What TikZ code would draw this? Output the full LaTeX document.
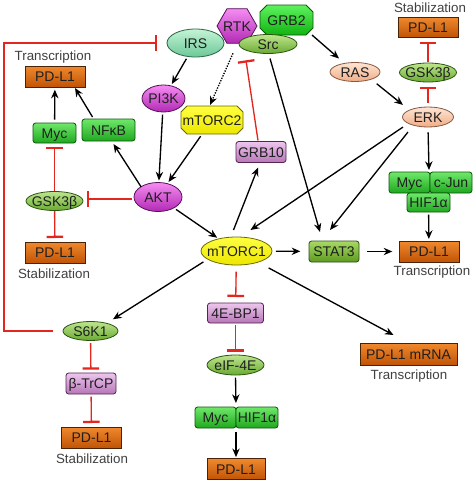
\documentclass[tikz,border=0pt]{standalone}
\usepackage{fontspec}
\setmainfont{Liberation Sans}
\usetikzlibrary{arrows.meta,shapes.geometric,calc}
\definecolor{pdTop}{HTML}{F0892E}
\definecolor{pdBot}{HTML}{C05406}
\definecolor{pdDraw}{HTML}{4A2204}
\definecolor{grnTop}{HTML}{6FE86A}
\definecolor{grnBot}{HTML}{1FA81F}
\definecolor{grnDraw}{HTML}{0E560E}
\definecolor{purTop}{HTML}{EEC6EE}
\definecolor{purBot}{HTML}{B676B6}
\definecolor{purDraw}{HTML}{552455}
\definecolor{magTop}{HTML}{F58CF2}
\definecolor{magBot}{HTML}{B22AB4}
\definecolor{magDraw}{HTML}{55105A}
\definecolor{lgTop}{HTML}{BEE68E}
\definecolor{lgBot}{HTML}{6AAA32}
\definecolor{lgDraw}{HTML}{2C5610}
\definecolor{irsTop}{HTML}{C4F4D6}
\definecolor{irsBot}{HTML}{6CC898}
\definecolor{irsDraw}{HTML}{2C6446}
\definecolor{pchTop}{HTML}{FDE6D4}
\definecolor{pchBot}{HTML}{F0AC86}
\definecolor{pchDraw}{HTML}{875842}
\definecolor{ylTop}{HTML}{FFFF40}
\definecolor{ylBot}{HTML}{EDE600}
\definecolor{ylDraw}{HTML}{6A6A00}
\definecolor{stTop}{HTML}{A8DA64}
\definecolor{stBot}{HTML}{5E9A22}
\definecolor{stDraw}{HTML}{2C4E0E}
\definecolor{g2Top}{HTML}{5EF25E}
\definecolor{g2Bot}{HTML}{10B410}
\definecolor{g2Draw}{HTML}{0A560A}
\definecolor{inhRed}{HTML}{E3261E}
\newcommand\ct[1]{\makebox[0pt]{\smash{\raisebox{-0.36em}{#1}}}}
\newcommand\octpath[5]{(#1-#3+#5,#2-#4) -- (#1+#3-#5,#2-#4) -- (#1+#3,#2-#4+#5) -- (#1+#3,#2+#4-#5) -- (#1+#3-#5,#2+#4) -- (#1-#3+#5,#2+#4) -- (#1-#3,#2+#4-#5) -- (#1-#3,#2-#4+#5) -- cycle}
\begin{document}
\begin{tikzpicture}[x=0.75pt,y=-0.75pt,
  font=\fontsize{10.5}{12}\selectfont,
  nd/.style={inner sep=0pt, outer sep=0pt, text=black!88},
  pdl/.style={nd, rectangle, draw=pdDraw, top color=pdTop, bottom color=pdBot, minimum width=45pt, minimum height=15.75pt, line width=0.6pt},
  gbox/.style={nd, rectangle, rounded corners=2pt, draw=grnDraw, top color=grnTop, bottom color=grnBot, minimum height=15.75pt, line width=0.6pt},
  pbox/.style={nd, rectangle, rounded corners=2pt, draw=purDraw, top color=purTop, bottom color=purBot, minimum width=37.5pt, minimum height=15.75pt, line width=0.6pt},
  mell/.style={nd, ellipse, draw=magDraw, top color=magTop, bottom color=magBot, line width=0.6pt},
  lgell/.style={nd, ellipse, draw=lgDraw, top color=lgTop, bottom color=lgBot, line width=0.6pt},
  pell/.style={nd, ellipse, draw=pchDraw, top color=pchTop, bottom color=pchBot, line width=0.6pt},
  lbl/.style={inner sep=0pt, text=black!75, font=\fontsize{10}{12}\selectfont},
  arr/.style={draw=black, line width=1pt, -{Stealth[length=6.5pt,width=5.5pt]}, shorten <=2pt, shorten >=1.5pt},
  inh/.style={draw=inhRed, line width=1pt, -{Bar[width=12.5pt,line width=1.7pt]}, shorten <=1.5pt, shorten >=2.5pt}
]
\useasboundingbox (0,0) rectangle (474,482);
\fill[white] (0,0) rectangle (474,482);

% top cluster
\node[nd, regular polygon, regular polygon sides=6, minimum size=30pt, draw=magDraw, top color=magTop, bottom color=magBot, line width=0.6pt] (rtk) at (237,26) {\ct{RTK}};
\node[nd, ellipse, draw=irsDraw, top color=irsTop, bottom color=irsBot, line width=0.6pt, minimum width=42.75pt, minimum height=21pt] (irs) at (195.5,43) {\ct{IRS}};
\path[draw=g2Draw, top color=g2Top, bottom color=g2Bot, line width=0.6pt] \octpath{286.5}{20}{26.5}{15}{7};
\node[nd, minimum width=39.75pt, minimum height=22.5pt] (grb2) at (286.5,20) {\ct{GRB2}};
\node[lgell, minimum width=43.5pt, minimum height=14.25pt] (src) at (268,44) {\ct{Src}};

% left column
\node[pdl] (pdA) at (55,76.5) {\ct{PD-L1}};
\node[lbl] (tA) at (53,57) {Transcription};
\node[gbox, minimum width=32.25pt, minimum height=15pt] (mycA) at (54.5,133) {\ct{Myc}};
\node[gbox, minimum width=39.75pt, minimum height=16.5pt] (nfkb) at (108.5,130) {\ct{NFκB}};
\node[lgell, minimum width=42.75pt, minimum height=14.25pt] (gskA) at (54.5,201) {\ct{GSK3β}};
\node[pdl] (pdB) at (55,252.5) {\ct{PD-L1}};
\node[lbl] (tB) at (54,274) {Stabilization};

% PI3K / AKT / mTORC2
\node[mell, minimum width=32.25pt, minimum height=20.25pt] (pi3k) at (163.5,98.5) {\ct{PI3K}};
\path[draw=ylDraw, top color=ylTop, bottom color=ylBot, line width=0.6pt] \octpath{212}{120}{31}{14}{6};
\node[nd, minimum width=46.5pt, minimum height=21pt] (mtorc2) at (212,120) {\ct{mTORC2}};
\node[mell, minimum width=36pt, minimum height=21.75pt] (akt) at (158,197) {\ct{AKT}};
\node[pbox] (grb10) at (261,152) {\ct{GRB10}};

% centre
\node[nd, ellipse, draw=ylDraw, top color=ylTop, bottom color=ylBot, line width=0.6pt, minimum width=53.25pt, minimum height=21pt] (mtorc1) at (236.5,251) {\ct{mTORC1}};
\node[nd, rectangle, rounded corners=2pt, draw=stDraw, top color=stTop, bottom color=stBot, line width=0.6pt, minimum width=37.5pt, minimum height=15.75pt] (stat3) at (334,251.5) {\ct{STAT3}};
\node[pdl] (pdC) at (429,251.5) {\ct{PD-L1}};
\node[lbl] (tC) at (432,272) {Transcription};

% right column
\node[lbl] (tD) at (430,8) {Stabilization};
\node[pdl, minimum height=15pt] (pdD) at (428,27) {\ct{PD-L1}};
\node[lgell, minimum width=42.75pt, minimum height=14.25pt] (gskB) at (428,72.5) {\ct{GSK3β}};
\node[pell, minimum width=37.5pt, minimum height=14.25pt] (ras) at (355,72) {\ct{RAS}};
\node[pell, minimum width=38.25pt, minimum height=15pt] (erk) at (428,117) {\ct{ERK}};
\node[gbox, minimum width=30.75pt] (mycR) at (409.5,182.5) {\ct{Myc}};
\node[gbox, minimum width=31.5pt] (cjun) at (451,182.5) {\ct{c-Jun}};
\node[gbox, minimum width=32.25pt, minimum height=14.25pt] (hifR) at (428.5,202.5) {\ct{HIF1α}};

% bottom
\node[lgell, minimum width=41.25pt, minimum height=14.25pt] (s6k1) at (90.5,331) {\ct{S6K1}};
\node[pbox] (btrcp) at (91,383.5) {\ct{β-TrCP}};
\node[pdl] (pdE) at (91.5,437.5) {\ct{PD-L1}};
\node[lbl] (tE) at (92,459) {Stabilization};
\node[pbox, minimum width=42pt, minimum height=15pt] (ebp) at (235.5,313) {\ct{4E-BP1}};
\node[lgell, minimum width=42.75pt, minimum height=15pt] (eif) at (235.5,365) {\ct{eIF-4E}};
\node[gbox, minimum width=30.75pt] (mycB) at (215.5,417.5) {\ct{Myc}};
\node[gbox, minimum width=31.5pt] (hifB) at (257,417.5) {\ct{HIF1α}};
\node[pdl, minimum width=43.5pt] (pdF) at (236,469) {\ct{PD-L1}};
\node[pdl, minimum width=72.75pt, minimum height=16.5pt] (mrna) at (408.5,354) {\ct{PD-L1 mRNA}};
\node[lbl] (tF) at (409,376) {Transcription};

% feedback loop S6K1 -| IRS
\coordinate (lp) at (4,43);
\draw[inh, shorten <=0pt, shorten >=0pt] ($(s6k1.west)+(-10,0)$) -| (lp) -- ($(irs.west)+(-10,0)$);

% black arrows
\draw[arr] (irs) -- (pi3k);
\draw[arr] (pi3k) -- (akt);
\draw[arr] (mtorc2) -- (akt);
\draw[arr, densely dotted, shorten <=0pt, shorten >=0pt] ($(rtk.south)+(-4,10)$) -- ($(mtorc2.north)+(-2,-1)$);
\draw[arr, shorten <=0pt, shorten >=0pt] ($(mtorc1.north)+(-3,-7)$) -- ($(grb10.south)+(-3,5)$);
\draw[arr, shorten <=0pt, shorten >=0pt] ($(src.south)+(2,5)$) -- ($(stat3.north)+(-14,-9)$);
\draw[arr, shorten <=0pt, shorten >=0pt] ($(grb2.east)+(-1,15)$) -- ($(ras.north)+(-16,-4)$);
\draw[arr, shorten <=0pt, shorten >=0pt] ($(ras.south east)+(4,5)$) -- ($(erk.north west)+(-7,-5)$);
\draw[arr, shorten <=0pt, shorten >=0pt] ($(erk.south west)+(-7,3)$) -- ($(mtorc1.north)+(14,-7)$);
\draw[arr, shorten <=0pt, shorten >=0pt] ($(erk.south west)+(-2,8)$) -- ($(stat3.north)+(-4,-11)$);
\draw[arr, shorten <=4pt, shorten >=0pt] (erk.south) -- ($(mycR.north east)+(-1,-2)$);
\draw[arr] (hifR) -- (pdC);
\draw[arr] (akt) -- (mtorc1);
\draw[arr, shorten <=0pt, shorten >=0pt] (akt.north west) -- ($(nfkb.south)+(5,3)$);
\draw[arr, shorten <=0pt, shorten >=0pt] ($(nfkb.north)+(-16,-2)$) -- ($(pdA.south)+(20,1)$);
\draw[arr, shorten <=2.5pt, shorten >=2pt] (mycA) -- (pdA);
\draw[arr, shorten <=3pt, shorten >=6.5pt] (mtorc1) -- (stat3);
\draw[arr, shorten <=6pt, shorten >=5pt] (stat3) -- (pdC);
\draw[arr, shorten <=0pt, shorten >=0pt] ($(mtorc1.south west)+(-8,1)$) -- ($(s6k1.north east)+(3,-5)$);
\draw[arr, shorten <=0pt, shorten >=0pt] ($(mtorc1.south east)+(7,7)$) -- ($(mrna.north)+(-15,-8)$);
\draw[arr, shorten <=2pt, shorten >=3pt] (eif.south) -- (mycB.north east);
\draw[arr, shorten <=3pt, shorten >=1pt] (mycB.south east) -- (pdF.north);

% red inhibitions
\draw[inh, shorten <=0pt, shorten >=0pt] ($(grb10.north)+(-3,-1)$) -- ($(rtk.south)+(9,17)$);
\draw[inh, shorten <=3pt, shorten >=3.5pt] (erk) -- (gskB);
\draw[inh, shorten <=1pt, shorten >=3.5pt] (gskB) -- (pdD);
\draw[inh, shorten <=0pt, shorten >=0pt] ($(akt.west)+(-2,2)$) -- ($(gskA.east)+(4,-2)$);
\draw[inh, shorten <=0.5pt, shorten >=3pt] (gskA) -- (mycA);
\draw[inh, shorten <=0.5pt, shorten >=3pt] (gskA) -- (pdB);
\draw[inh, shorten <=5pt, shorten >=4.5pt] (mtorc1) -- (ebp);
\draw[inh, shorten <=1.5pt, shorten >=2.5pt] (ebp) -- (eif);
\draw[inh, shorten <=2pt, shorten >=2.5pt] (s6k1) -- (btrcp);
\draw[inh, shorten <=2pt, shorten >=3pt] (btrcp) -- (pdE);
\end{tikzpicture}
\end{document}
